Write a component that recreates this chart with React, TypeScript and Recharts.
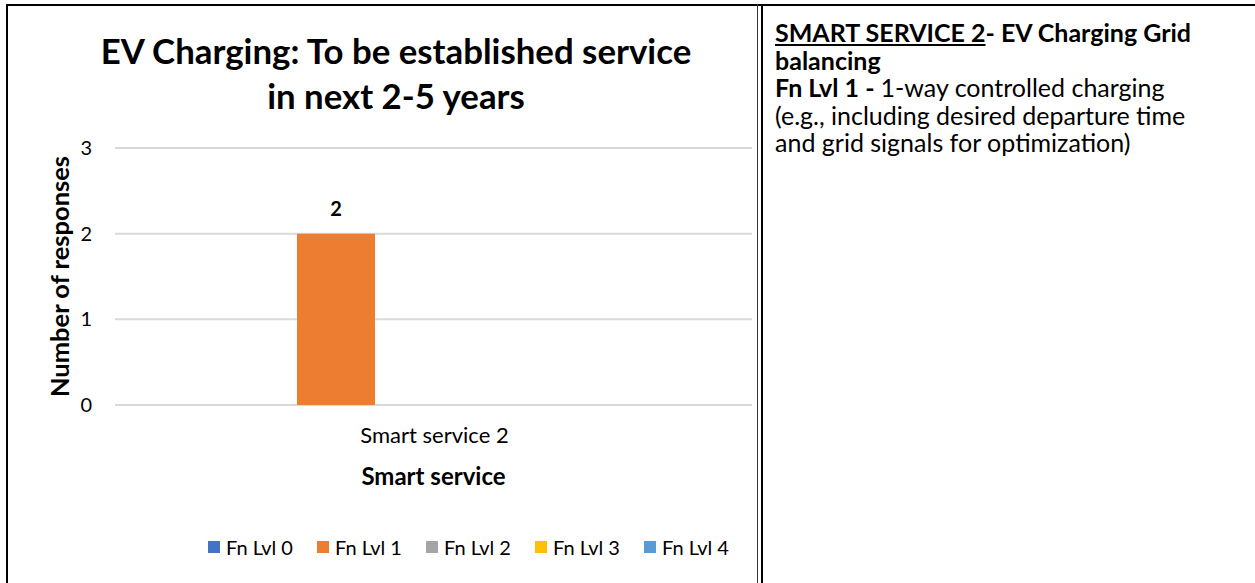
import { BarChart, Bar, XAxis, YAxis, CartesianGrid, Legend, LabelList } from "recharts"

const categories = ["Smart service 2"]
const seriesNames = ["Fn Lvl 0", "Fn Lvl 1", "Fn Lvl 2", "Fn Lvl 3", "Fn Lvl 4"]
const seriesColors = ["#4472C4", "#ED7D31", "#A5A5A5", "#FFC000", "#5B9BD5"]
const lvl0 = [0]
const lvl1 = [2]
const lvl2 = [0]
const lvl3 = [0]
const lvl4 = [0]
const yTicks = [0, 1, 2, 3]

const seriesValues = [lvl0, lvl1, lvl2, lvl3, lvl4]

const data = categories.map((name, i) => {
  const row: Record<string, string | number> = { name }
  seriesNames.forEach((s, j) => {
    row[s] = seriesValues[j][i]
  })
  return row
})

const font = "Lato, 'Open Sans', sans-serif"

function LegendContent(props: any) {
  const items = props.payload || []
  return (
    <div style={{ display: "flex", fontFamily: font, fontSize: 20, color: "#000" }}>
      {items.map((item: any) => (
        <div key={item.value} style={{ display: "flex", alignItems: "center", width: 109 }}>
          <span style={{ width: 12, height: 12, background: item.color, marginRight: 6, display: "inline-block" }} />
          <span>{item.value}</span>
        </div>
      ))}
    </div>
  )
}

const noteLine = { height: 27.5, lineHeight: "27.5px" }

export default function App() {
  return (
    <div
      style={{
        position: "absolute",
        left: 0,
        top: 0,
        width: 1255,
        height: 583,
        background: "#fff",
        overflow: "hidden",
        fontFamily: font,
      }}
    >
      {/* table borders */}
      <div style={{ position: "absolute", left: 6, top: 4, width: 1249, height: 2, background: "#000" }} />
      <div style={{ position: "absolute", left: 6, top: 4, width: 2, height: 579, background: "#000" }} />
      <div style={{ position: "absolute", left: 757, top: 4, width: 1, height: 579, background: "#333" }} />
      <div style={{ position: "absolute", left: 761, top: 4, width: 2, height: 579, background: "#000" }} />

      <div
        style={{
          position: "absolute",
          left: 0,
          top: 28,
          width: 792,
          textAlign: "center",
          fontSize: 34.8,
          fontWeight: 700,
          lineHeight: "45px",
          color: "#000",
        }}
      >
        EV Charging: To be established service
        <br />
        in next 2-5 years
      </div>

      <div style={{ position: "absolute", left: 0, top: 0 }}>
        <BarChart
          width={757}
          height={583}
          data={data}
          margin={{ top: 148, right: 5, left: 0, bottom: 88 }}
          barGap={0}
          barSize={78}
        >
          <CartesianGrid vertical={false} stroke="#D9D9D9" strokeWidth={2} />
          <XAxis
            dataKey="name"
            axisLine={false}
            tickLine={false}
            height={90}
            padding={{ left: 0, right: 40 }}
            tickMargin={16}
            tick={{ fill: "#000", fontSize: 22, fontFamily: font, dx: 21 }}
            label={{
              value: "Smart service",
              position: "center",
              dy: 26,
              style: { fontWeight: 700, fontSize: 24, fill: "#000", fontFamily: font },
            }}
          />
          <YAxis
            domain={[0, 3]}
            ticks={yTicks}
            width={115}
            axisLine={false}
            tickLine={false}
            tickMargin={17}
            tick={{ fill: "#000", fontSize: 20, fontFamily: font }}
            label={{
              value: "Number of responses",
              angle: -90,
              position: "center",
              dx: 2,
              style: { fontWeight: 700, fontSize: 25.5, fill: "#000", fontFamily: font, textAnchor: "middle" },
            }}
          />
          <Legend
            layout="horizontal"
            verticalAlign="middle"
            align="center"
            wrapperStyle={{ top: 535, left: 208, width: 560 }}
            content={<LegendContent />}
          />
          {seriesNames.map((s, j) => (
            <Bar key={s} dataKey={s} name={s} fill={seriesColors[j]} isAnimationActive={false}>
              <LabelList
                dataKey={s}
                position="top"
                offset={18}
                formatter={(v: any) => (v ? v : "")}
                style={{ fontWeight: 700, fontSize: 20, fill: "#000", fontFamily: font }}
              />
            </Bar>
          ))}
        </BarChart>
      </div>

      <div
        style={{
          position: "absolute",
          left: 775,
          top: 19,
          whiteSpace: "nowrap",
          fontSize: 25,
          color: "#000",
        }}
      >
        <div style={{ ...noteLine, fontWeight: 700 }}>
          <u>SMART SERVICE 2</u>- EV Charging Grid
        </div>
        <div style={{ ...noteLine, fontWeight: 700 }}>balancing</div>
        <div style={noteLine}>
          <b>Fn Lvl 1 - </b>1-way controlled charging
        </div>
        <div style={noteLine}>(e.g., including desired departure time</div>
        <div style={noteLine}>and grid signals for optimization)</div>
      </div>
    </div>
  )
}
